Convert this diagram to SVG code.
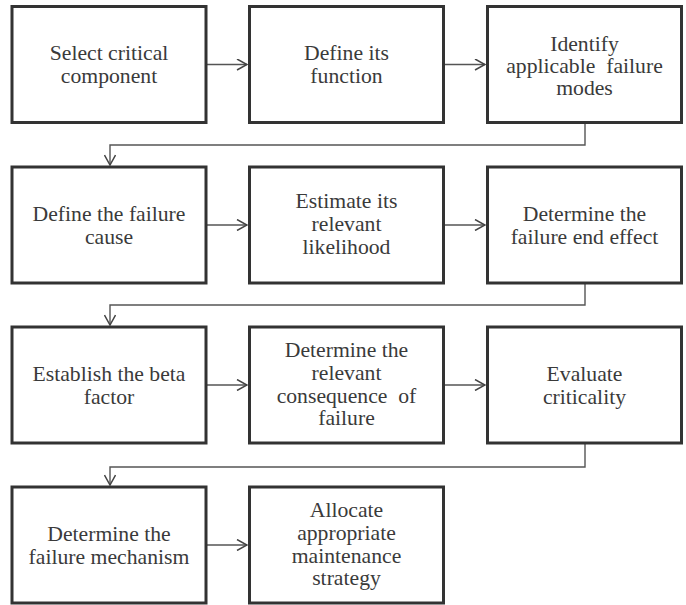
<svg xmlns="http://www.w3.org/2000/svg" width="686" height="605" viewBox="0 0 686 605">
<style>
.box{fill:#fff;stroke:#333;stroke-width:3}
.t{font-size:21.7px;fill:#3a3a3a;text-anchor:middle}
.c{fill:none;stroke:#555;stroke-width:1.4}
</style>
<defs>
<marker id="ah" viewBox="0 0 12 12" refX="11" refY="6" markerWidth="12" markerHeight="12" markerUnits="userSpaceOnUse" orient="auto">
<path d="M1,0.5 L11,6 L1,11.5" fill="none" stroke="#444" stroke-width="1.5"/>
</marker>
</defs>
<rect width="686" height="605" fill="#fff"/>
<g id="connectors">
<line class="c" x1="207" y1="64.5" x2="247" y2="64.5" marker-end="url(#ah)"/>
<line class="c" x1="445" y1="64.5" x2="485" y2="64.5" marker-end="url(#ah)"/>
<path class="c" d="M585,123 V145 H110 V165" marker-end="url(#ah)"/>
<line class="c" x1="207" y1="225" x2="247" y2="225" marker-end="url(#ah)"/>
<line class="c" x1="445" y1="225" x2="485" y2="225" marker-end="url(#ah)"/>
<path class="c" d="M585,284 V305 H110 V325" marker-end="url(#ah)"/>
<line class="c" x1="207" y1="385" x2="247" y2="385" marker-end="url(#ah)"/>
<line class="c" x1="445" y1="385" x2="485" y2="385" marker-end="url(#ah)"/>
<path class="c" d="M585,444 V467 H110 V485" marker-end="url(#ah)"/>
<line class="c" x1="207" y1="545" x2="247" y2="545" marker-end="url(#ah)"/>
</g>
<g font-family="Liberation Serif, Times New Roman, serif">
<g id="n1"><rect class="box" x="12" y="6.5" width="194" height="116"/>
<text class="t" x="109" y="60">Select critical</text><text class="t" x="109" y="82.5">component</text></g>
<g id="n2"><rect class="box" x="249.5" y="6.5" width="194" height="116"/>
<text class="t" x="346.5" y="60">Define its</text><text class="t" x="346.5" y="82.5">function</text></g>
<g id="n3"><rect class="box" x="487.5" y="6.5" width="194" height="116"/>
<text class="t" x="584.5" y="51">Identify</text><text class="t" x="584.5" y="73" xml:space="preserve">applicable  failure</text><text class="t" x="584.5" y="95">modes</text></g>
<g id="n4"><rect class="box" x="12" y="167" width="194" height="116"/>
<text class="t" x="109" y="221">Define the failure</text><text class="t" x="109" y="243.5">cause</text></g>
<g id="n5"><rect class="box" x="249.5" y="167" width="194" height="116"/>
<text class="t" x="346.5" y="208">Estimate its</text><text class="t" x="346.5" y="231">relevant</text><text class="t" x="346.5" y="254">likelihood</text></g>
<g id="n6"><rect class="box" x="487.5" y="167" width="194" height="116"/>
<text class="t" x="584.5" y="221">Determine the</text><text class="t" x="584.5" y="243.5">failure end effect</text></g>
<g id="n7"><rect class="box" x="12" y="327" width="194" height="116"/>
<text class="t" x="109" y="381">Establish the beta</text><text class="t" x="109" y="403.5">factor</text></g>
<g id="n8"><rect class="box" x="249.5" y="327" width="194" height="116"/>
<text class="t" x="346.5" y="357">Determine the</text><text class="t" x="346.5" y="380">relevant</text><text class="t" x="346.5" y="402.5" xml:space="preserve">consequence  of</text><text class="t" x="346.5" y="425">failure</text></g>
<g id="n9"><rect class="box" x="487.5" y="327" width="194" height="116"/>
<text class="t" x="584.5" y="381">Evaluate</text><text class="t" x="584.5" y="403.5">criticality</text></g>
<g id="n10"><rect class="box" x="12" y="487" width="194" height="116"/>
<text class="t" x="109" y="541">Determine the</text><text class="t" x="109" y="563.5">failure mechanism</text></g>
<g id="n11"><rect class="box" x="249.5" y="487" width="194" height="116"/>
<text class="t" x="346.5" y="517">Allocate</text><text class="t" x="346.5" y="540">appropriate</text><text class="t" x="346.5" y="562.5">maintenance</text><text class="t" x="346.5" y="585">strategy</text></g>
</g>
</svg>
